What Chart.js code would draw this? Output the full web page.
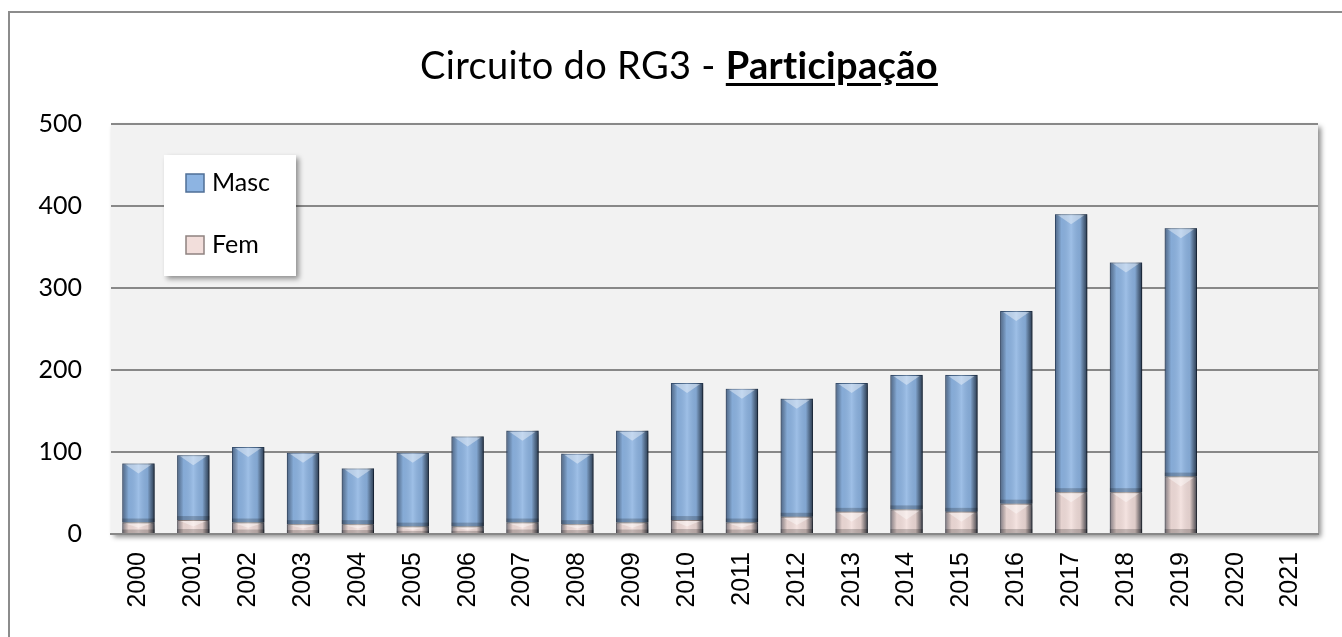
<!DOCTYPE html>
<html>
<head>
<meta charset="utf-8">
<script src="https://cdn.jsdelivr.net/npm/chart.js@4/dist/chart.umd.min.js"></script>
<style>
  html, body { margin: 0; padding: 0; background: #fff; }
  #wrap { position: relative; width: 1342px; height: 637px; }
  #title {
    position: absolute; left: 8px; width: 1342px; top: 42px;
    text-align: center; font: 38px Lato, "Open Sans", sans-serif; color: #000;
    line-height: 44px; letter-spacing: 0.3px;
  }
  #title b { text-decoration: underline; text-underline-offset: 4px; }
</style>
</head>
<body>
<div id="wrap">
  <canvas id="grafico" width="1342" height="637"></canvas>
  <div id="title">Circuito do RG3 - <b>Participação</b></div>
</div>
<script>
// Dados
const anos = ['2000','2001','2002','2003','2004','2005','2006','2007','2008','2009','2010',
              '2011','2012','2013','2014','2015','2016','2017','2018','2019','2020','2021'];
const fem  = [14, 17, 14, 12, 12, 9, 9, 14, 12, 14, 17, 14, 21, 27, 30, 27, 37, 51, 51, 70, null, null];
const masc = [72, 79, 92, 87, 68, 90, 110, 112, 86, 112, 167, 163, 144, 157, 164, 167, 235, 339, 280, 303, null, null];
const yTicks = [0, 100, 200, 300, 400, 500];

const corMasc = '#8db4e2';
const corFem = '#f2dedb';

// moldura externa e fundo da área do gráfico
const fundo = {
    id: 'fundo',
    beforeDraw(chart) {
        const ctx = chart.ctx;
        const a = chart.chartArea;
        ctx.save();
        ctx.strokeStyle = '#8c8c8c';
        ctx.lineWidth = 2;
        ctx.strokeRect(9, 12, 1400, 700);
        ctx.shadowColor = 'rgba(0,0,0,0.45)';
        ctx.shadowBlur = 5;
        ctx.shadowOffsetX = 3;
        ctx.shadowOffsetY = 3;
        ctx.fillStyle = '#f2f2f2';
        ctx.fillRect(a.left, a.top, a.right - a.left, a.bottom - a.top);
        ctx.restore();
    }
};

// sombra e efeito de bisel nas barras
const bisel = {
    id: 'bisel',
    beforeDatasetsDraw(chart) {
        const ctx = chart.ctx;
        ctx.save();
        ctx.shadowColor = 'rgba(0,0,0,0.4)';
        ctx.shadowBlur = 4;
        ctx.shadowOffsetX = 3;
        ctx.shadowOffsetY = 2;
    },
    afterDatasetsDraw(chart) {
        const ctx = chart.ctx;
        ctx.restore();
        ctx.save();
        chart.data.datasets.forEach((ds, i) => {
            const meta = chart.getDatasetMeta(i);
            meta.data.forEach((el, j) => {
                if (ds.data[j] == null) return;
                const p = el.getProps(['x', 'y', 'base', 'width'], true);
                const left = p.x - p.width / 2;
                const top = Math.min(p.y, p.base);
                const h = Math.abs(p.base - p.y);
                const w = p.width;
                const g = ctx.createLinearGradient(left, 0, left + w, 0);
                g.addColorStop(0, 'rgba(20,30,50,0.5)');
                g.addColorStop(0.2, 'rgba(0,0,0,0.05)');
                g.addColorStop(0.5, 'rgba(255,255,255,0.15)');
                g.addColorStop(0.78, 'rgba(0,0,0,0.08)');
                g.addColorStop(1, 'rgba(10,20,35,0.75)');
                ctx.fillStyle = g;
                ctx.fillRect(left, top, w, h);
                // triângulo claro no topo
                const t = Math.min(10, h / 2);
                ctx.fillStyle = 'rgba(255,255,255,0.4)';
                ctx.beginPath();
                ctx.moveTo(left + 3, top + 1);
                ctx.lineTo(left + w - 3, top + 1);
                ctx.lineTo(p.x, top + t);
                ctx.closePath();
                ctx.fill();
                // faixa escura em baixo
                ctx.fillStyle = 'rgba(0,0,0,0.2)';
                ctx.fillRect(left, top + h - Math.min(4, h / 3), w, Math.min(4, h / 3));
            });
        });
        ctx.restore();
    }
};

// legenda dentro da área do gráfico
const legenda = {
    id: 'legenda',
    afterDraw(chart) {
        const ctx = chart.ctx;
        const a = chart.chartArea;
        const bx = a.left + 53, by = a.top + 31, bw = 132, bh = 121;
        ctx.save();
        ctx.shadowColor = 'rgba(0,0,0,0.4)';
        ctx.shadowBlur = 5;
        ctx.shadowOffsetX = 3;
        ctx.shadowOffsetY = 3;
        ctx.fillStyle = '#ffffff';
        ctx.fillRect(bx, by, bw, bh);
        ctx.restore();
        const itens = [
            { label: chart.data.datasets[1].label, cor: corMasc, borda: '#4f6f96', y: by + 28 },
            { label: chart.data.datasets[0].label, cor: corFem, borda: '#8f8280', y: by + 90 }
        ];
        ctx.save();
        itens.forEach(it => {
            ctx.fillStyle = it.cor;
            ctx.fillRect(bx + 22, it.y - 9, 18, 18);
            ctx.strokeStyle = it.borda;
            ctx.lineWidth = 1.5;
            ctx.strokeRect(bx + 22, it.y - 9, 18, 18);
            ctx.fillStyle = '#000';
            ctx.font = '25px Lato, sans-serif';
            ctx.textBaseline = 'middle';
            ctx.fillText(it.label, bx + 48, it.y);
        });
        ctx.restore();
    }
};

const ctx = document.getElementById('grafico').getContext('2d');
const grafico = new Chart(ctx, {
    type: 'bar',
    data: {
        labels: anos,
        datasets: [
            {
                label: 'Fem',
                data: fem,
                backgroundColor: corFem,
                borderColor: '#9d8f8c',
                borderWidth: 1,
                barPercentage: 0.6,
                categoryPercentage: 0.98
            },
            {
                label: 'Masc',
                data: masc,
                backgroundColor: corMasc,
                borderColor: '#4f6f96',
                borderWidth: 1,
                barPercentage: 0.6,
                categoryPercentage: 0.98
            }
        ]
    },
    options: {
        responsive: false,
        animation: false,
        layout: { padding: { left: 0, right: 24, top: 124, bottom: 0 } },
        plugins: {
            legend: { display: false },
            title: { display: false },
            tooltip: { enabled: false }
        },
        scales: {
            x: {
                stacked: true,
                grid: { display: false, drawTicks: false },
                border: { display: true, color: '#888', width: 2 },
                ticks: {
                    minRotation: 90,
                    maxRotation: 90,
                    padding: 18,
                    color: '#000',
                    font: { family: '"Liberation Sans", Arial, sans-serif', size: 25 }
                },
                afterFit(scale) { scale.height = 103; }
            },
            y: {
                stacked: true,
                min: 0,
                max: 500,
                afterBuildTicks(scale) { scale.ticks = yTicks.map(v => ({ value: v })); },
                grid: { color: '#888', lineWidth: 2, drawTicks: false },
                border: { display: false },
                ticks: {
                    padding: 29,
                    color: '#000',
                    font: { family: 'Lato, sans-serif', size: 25 }
                },
                afterFit(scale) { scale.width = 111; }
            }
        }
    },
    plugins: [fundo, bisel, legenda]
});
</script>
</body>
</html>
